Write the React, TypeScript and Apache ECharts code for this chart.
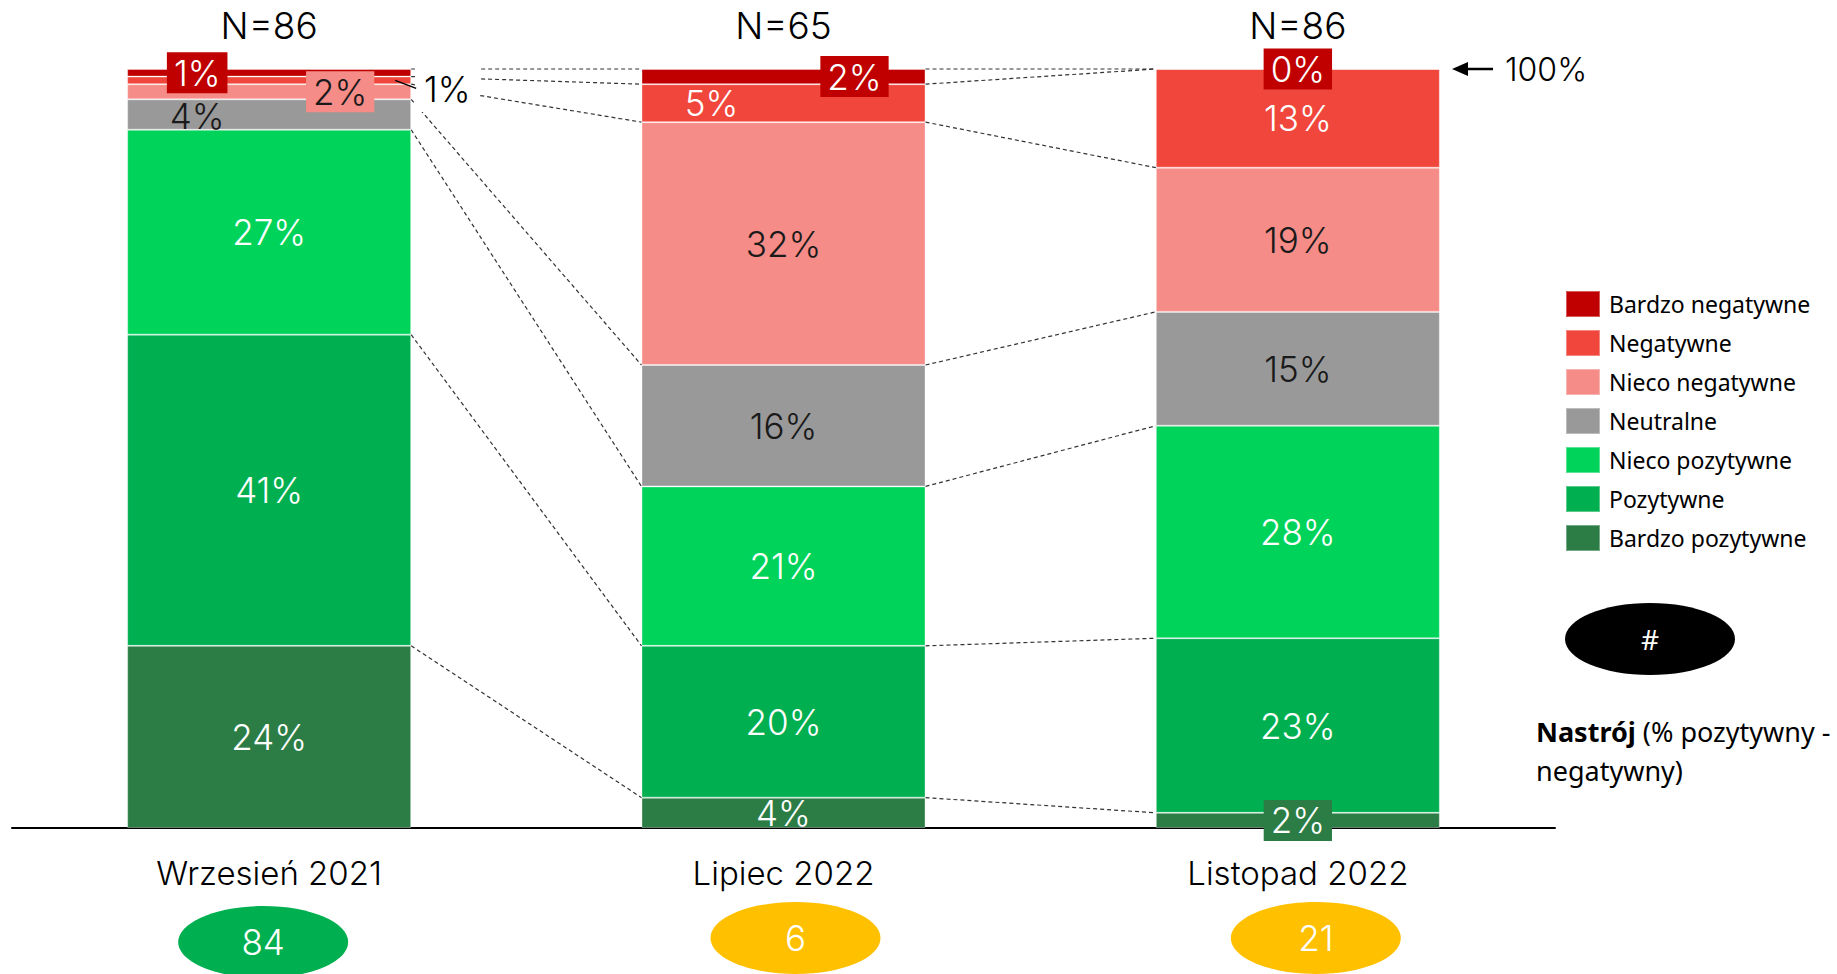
import React, { useEffect, useRef } from "react";
import * as echarts from "echarts";

// ---------- data ----------
const categories = ["Wrzesień 2021", "Lipiec 2022", "Listopad 2022"];
const sampleSizes = ["N=86", "N=65", "N=86"];
const moodScores = [84, 6, 21];

const bardzoPozytywne = [24, 4, 2];
const pozytywne = [41, 20, 23];
const niecoPozytywne = [27, 21, 28];
const neutralne = [4, 16, 15];
const niecoNegatywne = [2, 32, 19];
const negatywne = [1, 5, 13];
const bardzoNegatywne = [1, 2, 0];

// ---------- styles ----------
const FONT = "Inter, Lato, 'Open Sans', sans-serif";
const LEGEND_FONT = "'Noto Sans', 'Open Sans', sans-serif";
const BAR_WIDTH = 284;

const seriesDefs = [
  { name: "Bardzo pozytywne", values: bardzoPozytywne, color: "#2B7D45", text: "#ffffff" },
  { name: "Pozytywne", values: pozytywne, color: "#00AF50", text: "#ffffff" },
  { name: "Nieco pozytywne", values: niecoPozytywne, color: "#00D35A", text: "#ffffff" },
  { name: "Neutralne", values: neutralne, color: "#999999", text: "#1a1a1a" },
  { name: "Nieco negatywne", values: niecoNegatywne, color: "#F58C87", text: "#1a1a1a" },
  { name: "Negatywne", values: negatywne, color: "#F0463C", text: "#ffffff" },
  { name: "Bardzo negatywne", values: bardzoNegatywne, color: "#C00000", text: "#ffffff" },
];
const legendOrder = seriesDefs.map((d) => d.name).reverse();

const boxPad = [3, 7];
const labelOverrides: Record<string, any> = {
  "Bardzo negatywne|0": { offset: [-72, 0], backgroundColor: "#C00000", padding: boxPad },
  "Negatywne|0": { offset: [178, 9], color: "#000000", backgroundColor: "#ffffff", padding: [5, 9] },
  "Nieco negatywne|0": { offset: [71, 0], backgroundColor: "#F58C87", padding: boxPad },
  "Neutralne|0": { offset: [-72, 1] },
  "Bardzo negatywne|1": { offset: [71, 0], backgroundColor: "#C00000", padding: boxPad },
  "Negatywne|1": { offset: [-72, 0] },
  "Bardzo negatywne|2": { backgroundColor: "#C00000", padding: boxPad },
  "Bardzo pozytywne|2": { backgroundColor: "#2B7D45", padding: boxPad },
};
const scoreOffsets = [
  [-6, 114],
  [12, 110],
  [18, 110],
];
const scoreColor = (v: number) => (v >= 50 ? "#00B050" : "#FFC000");

export default function App() {
  const ref = useRef<HTMLDivElement>(null);

  useEffect(() => {
    if (!ref.current) return;
    const chart = echarts.init(ref.current, undefined, { renderer: "svg" });

    // cumulative boundaries (bottom-up) for connector lines
    const cumulative = categories.map((_, c) => {
      let s = 0;
      return seriesDefs.map((d) => (s += d.values[c]));
    });
    const connectorData: number[][] = [];
    for (let c = 0; c < categories.length - 1; c++) {
      for (let k = 0; k < seriesDefs.length; k++) {
        connectorData.push([c, cumulative[c][k], cumulative[c + 1][k]]);
      }
    }
    const negIdx = seriesDefs.findIndex((d) => d.name === "Negatywne");
    const leaderData = [[0, cumulative[0][negIdx] - negatywne[0] / 2]];

    const barSeries = seriesDefs.map((d) => ({
      name: d.name,
      type: "bar",
      stack: "total",
      barWidth: BAR_WIDTH,
      z: 3,
      itemStyle: { color: d.color, borderColor: "rgba(255,255,255,0.35)", borderWidth: 1 },
      label: {
        show: true,
        position: "inside",
        formatter: "{c}%",
        color: d.text,
        fontFamily: FONT,
        fontWeight: 300,
        fontSize: 35,
        lineHeight: 35,
      },
      data: d.values.map((v, i) => {
        const ov = labelOverrides[`${d.name}|${i}`];
        return ov ? { value: v, label: ov } : v;
      }),
    }));

    const option: any = {
      animation: false,
      grid: { left: 12, right: 1837 - 1555, top: 69, bottom: 974 - 828 },
      legend: {
        data: legendOrder,
        orient: "vertical",
        left: 1565,
        top: 290,
        padding: 0,
        icon: "rect",
        itemWidth: 34,
        itemHeight: 26,
        itemGap: 11,
        selectedMode: false,
        textStyle: {
          fontFamily: LEGEND_FONT,
          fontSize: 23,
          color: "#000",
          padding: [0, 0, 0, 4],
          lineHeight: 26,
        },
      },
      xAxis: [
        {
          type: "category",
          data: categories,
          position: "bottom",
          axisLine: { show: true, lineStyle: { color: "#000", width: 2 } },
          axisTick: { show: false },
          axisLabel: { color: "#000", fontFamily: FONT, fontWeight: 300, fontSize: 33, margin: 28 },
        },
        {
          type: "category",
          data: sampleSizes,
          position: "top",
          axisLine: { show: false },
          axisTick: { show: false },
          axisLabel: { color: "#000", fontFamily: FONT, fontWeight: 300, fontSize: 37, margin: 25 },
        },
      ],
      yAxis: { type: "value", min: 0, max: 100, show: false, splitLine: { show: false } },
      series: [
        ...barSeries,
        {
          type: "custom",
          name: "connectors",
          z: 1,
          clip: false,
          silent: true,
          encode: { x: 0, y: [1, 2] },
          data: connectorData,
          renderItem: (params: any, api: any) => {
            const c = api.value(0);
            const p1 = api.coord([c, api.value(1)]);
            const p2 = api.coord([c + 1, api.value(2)]);
            return {
              type: "line",
              shape: { x1: p1[0] + BAR_WIDTH / 2, y1: p1[1], x2: p2[0] - BAR_WIDTH / 2, y2: p2[1] },
              style: { stroke: "#333", lineWidth: 1.2, lineDash: [4, 3] },
            };
          },
        },
        {
          type: "custom",
          name: "leader",
          z: 6,
          clip: false,
          silent: true,
          encode: { x: 0, y: 1 },
          data: leaderData,
          renderItem: (params: any, api: any) => {
            const p = api.coord([api.value(0), api.value(1)]);
            return {
              type: "line",
              shape: { x1: p[0] + 126, y1: p[1], x2: p[0] + 147, y2: p[1] + 8 },
              style: { stroke: "#000", lineWidth: 1.5 },
            };
          },
        },
        {
          type: "custom",
          name: "scores",
          z: 6,
          clip: false,
          silent: true,
          encode: { x: 0, y: 1 },
          data: moodScores.map((s, i) => [i, s]),
          renderItem: (params: any, api: any) => {
            const i = api.value(0);
            const s = api.value(1);
            const base = api.coord([i, 0]);
            const cx = base[0] + scoreOffsets[i][0];
            const cy = base[1] + scoreOffsets[i][1];
            return {
              type: "group",
              children: [
                { type: "ellipse", shape: { cx, cy, rx: 85, ry: 36 }, style: { fill: scoreColor(s) } },
                {
                  type: "text",
                  style: {
                    text: String(s),
                    x: cx,
                    y: cy,
                    align: "center",
                    verticalAlign: "middle",
                    fill: "#fff",
                    fontFamily: FONT,
                    fontWeight: 300,
                    fontSize: 35,
                  },
                },
              ],
            };
          },
        },
      ],
      graphic: [
        { type: "line", shape: { x1: 1464, y1: 69, x2: 1493, y2: 69 }, style: { stroke: "#000", lineWidth: 2.5 } },
        {
          type: "polygon",
          shape: { points: [[1452, 69], [1468, 62], [1468, 76]] },
          style: { fill: "#000" },
        },
        {
          type: "text",
          x: 1505,
          y: 69,
          style: { text: "100%", fill: "#000", fontFamily: FONT, fontWeight: 300, fontSize: 32, verticalAlign: "middle" },
        },
        { type: "ellipse", shape: { cx: 1650, cy: 639, rx: 85, ry: 36 }, style: { fill: "#000" } },
        {
          type: "text",
          x: 1650,
          y: 639,
          style: {
            text: "#",
            fill: "#fff",
            fontFamily: LEGEND_FONT,
            fontSize: 28,
            align: "center",
            verticalAlign: "middle",
          },
        },
        {
          type: "text",
          x: 1536,
          y: 712,
          style: {
            text: "{b|Nastrój} (% pozytywny -\nnegatywny)",
            fill: "#000",
            fontFamily: LEGEND_FONT,
            fontSize: 27,
            lineHeight: 39,
            rich: {
              b: { fontWeight: "bold", fontFamily: LEGEND_FONT, fontSize: 27, lineHeight: 39, fill: "#000" },
            },
          },
        },
      ],
    };

    chart.setOption(option);
    return () => chart.dispose();
  }, []);

  return (
    <div
      ref={ref}
      style={{ position: "fixed", left: 0, top: 0, width: "1837px", height: "974px", background: "#fff" }}
    />
  );
}
